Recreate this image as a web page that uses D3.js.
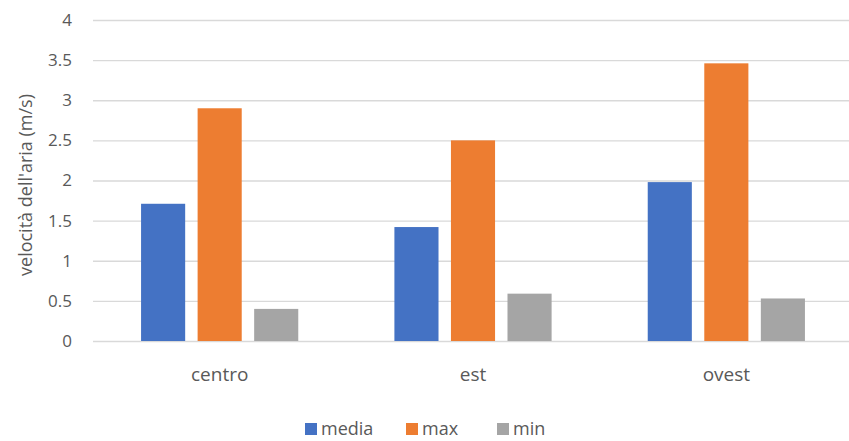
<!DOCTYPE html>
<html>
<head>
<meta charset="utf-8">
<script src="https://cdn.jsdelivr.net/npm/d3@7"></script>
<style>
  body { margin: 0; background: #fff; }
  text { font-family: "Open Sans", sans-serif; fill: #595959; }
</style>
</head>
<body>
<script>
const categories = ["centro", "est", "ovest"];
const seriesNames = ["media", "max", "min"];
const media = [1.71, 1.42, 1.98];
const max = [2.9, 2.5, 3.46];
const min = [0.4, 0.59, 0.53];
const yTicks = [0, 0.5, 1, 1.5, 2, 2.5, 3, 3.5, 4];

const W = 849, H = 441;
const margin = { top: 20, right: -4, bottom: 100, left: 93 };

const data = categories.map((c, i) => ({ cat: c, media: media[i], max: max[i], min: min[i] }));

const x0 = d3.scaleBand()
    .domain(categories)
    .range([margin.left, W - margin.right]);

const x1 = d3.scaleBand()
    .domain(seriesNames)
    .range([0, x0.bandwidth()])
    .paddingInner(0.22)
    .paddingOuter(0.85);

const y = d3.scaleLinear()
    .domain([0, 4])
    .range([341, 20]);

const color = d3.scaleOrdinal()
    .domain(seriesNames)
    .range(["#4472C4", "#ED7D31", "#A5A5A5"]);

const svg = d3.select("body").append("svg")
    .attr("width", W)
    .attr("height", H);

// gridlines + tick labels
const yAxis = svg.append("g")
    .attr("transform", `translate(${margin.left},0)`)
    .call(d3.axisLeft(y).tickValues(yTicks).tickSize(-(W - margin.left)).tickPadding(21).tickFormat(d3.format("")));
yAxis.select(".domain").remove();
yAxis.selectAll(".tick line").attr("stroke", "#d9d9d9").attr("stroke-width", 1.3);
yAxis.selectAll(".tick text")
    .attr("font-size", 17)
    .style("font-family", "'Open Sans', sans-serif")
    .attr("fill", "#595959");

// bars
svg.append("g")
  .selectAll("g")
  .data(data)
  .enter().append("g")
    .attr("transform", d => `translate(${x0(d.cat)},0)`)
  .selectAll("rect")
  .data(d => seriesNames.map(k => ({ key: k, value: d[k] })))
  .enter().append("rect")
    .attr("x", d => x1(d.key))
    .attr("y", d => y(d.value))
    .attr("width", x1.bandwidth())
    .attr("height", d => y(0) - y(d.value))
    .attr("fill", d => color(d.key));

// category labels
const xAxis = svg.append("g")
    .attr("transform", `translate(0,${y(0)})`)
    .call(d3.axisBottom(x0).tickSize(0).tickPadding(27));
xAxis.select(".domain").remove();
xAxis.selectAll(".tick text")
    .attr("font-size", 19)
    .style("font-family", "'Open Sans', sans-serif")
    .attr("fill", "#595959");

// y title
svg.append("text")
    .attr("transform", "translate(32,185) rotate(-90)")
    .attr("text-anchor", "middle")
    .attr("font-size", 18)
    .text("velocità dell'aria (m/s)");

// legend
const legendX = [305, 406, 497];
const legend = svg.append("g")
  .selectAll("g")
  .data(seriesNames)
  .enter().append("g")
    .attr("transform", (d, i) => `translate(${legendX[i]},423)`);

legend.append("rect")
    .attr("width", 12)
    .attr("height", 12)
    .attr("fill", color);

legend.append("text")
    .attr("x", 16)
    .attr("y", 12)
    .attr("font-size", 18)
    .text(d => d);
</script>
</body>
</html>
